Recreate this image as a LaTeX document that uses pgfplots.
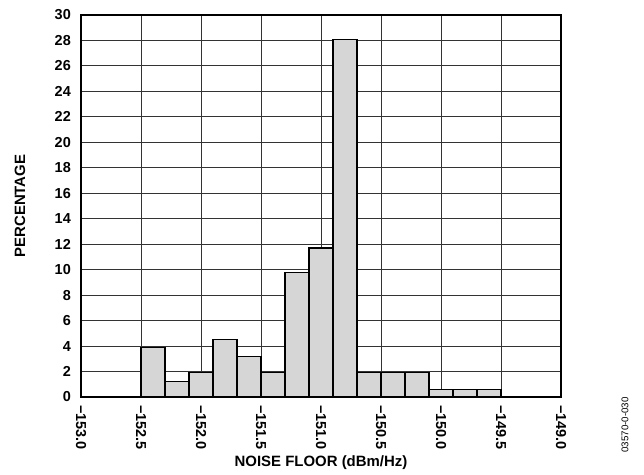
\documentclass[border=0pt]{standalone}
\usepackage{fontspec}
\setmainfont{Liberation Sans}
\usepackage{pgfplots}
\pgfplotsset{compat=1.18}
\begin{document}
\begin{tikzpicture}
\useasboundingbox (0,0) rectangle (644bp,475bp);
\begin{axis}[
  at={(81bp,78bp)}, anchor=south west,
  scale only axis, width=480bp, height=382bp,
  xmin=-153, xmax=-149, ymin=0, ymax=30,
  xtick={-153,-152.5,...,-149},
  xticklabels={−153.0,−152.5,−152.0,−151.5,−151.0,−150.5,−150.0,−149.5,−149.0},
  ytick={0,2,...,30},
  /pgf/number format/assume math mode=true,
  tick label style={font=\fontsize{14.5}{16}\selectfont\bfseries, inner sep=0pt},
  x tick label style={rotate=-90, anchor=west},
  xticklabel shift=8bp,
  yticklabel shift=10bp,
  major tick length=0pt,
  grid=major,
  grid style={line width=0.9bp, color=black!80},
  axis line style={line width=1.4bp},
  every axis x label/.style={at={(axis description cs:0.5,0)}, yshift=-66bp, anchor=center},
  every axis y label/.style={at={(axis description cs:0,0.5)}, xshift=-61bp, rotate=90, anchor=center},
  label style={font=\fontsize{15}{17}\selectfont\bfseries},
  xlabel={NOISE FLOOR (dBm/Hz)},
  ylabel={PERCENTAGE},
  clip=false,
]
\addplot[ybar interval, fill={rgb,255:red,214;green,214;blue,214}, draw=black, line width=1.2bp]
coordinates {
(-152.5,3.9) (-152.3,1.2) (-152.1,1.9) (-151.9,4.5) (-151.7,3.2) (-151.5,1.9)
(-151.3,9.8) (-151.1,11.7) (-150.9,28.1) (-150.7,1.9) (-150.5,1.9) (-150.3,1.9)
(-150.1,0.6) (-149.9,0.6) (-149.7,0.6) (-149.5,0.6)
};
\end{axis}
\node[rotate=90, font=\fontsize{9.8}{11}\selectfont] at (625bp,50bp) {03570-0-030};
\end{tikzpicture}
\end{document}
